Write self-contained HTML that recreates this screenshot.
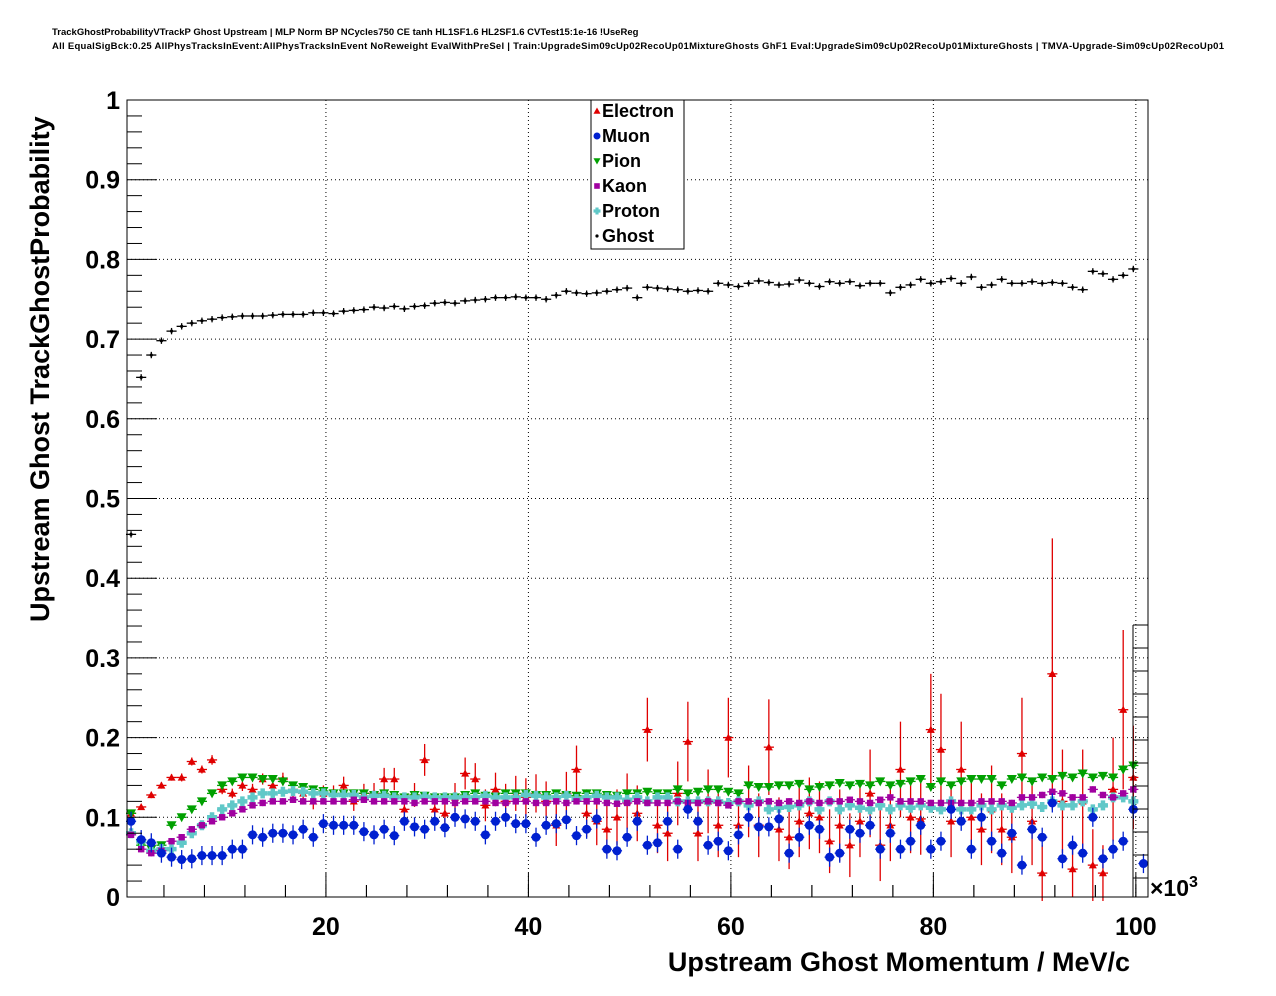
<!DOCTYPE html>
<html><head><meta charset="utf-8"><style>
body{margin:0;background:#fff;}
svg{display:block;font-family:"Liberation Sans",sans-serif;}
</style></head><body>
<svg id="c" width="1276" height="996">
<text x="52" y="35" font-size="9.5" font-weight="bold">TrackGhostProbabilityVTrackP Ghost Upstream | MLP Norm BP NCycles750 CE tanh HL1SF1.6 HL2SF1.6 CVTest15:1e-16 !UseReg</text>
<text x="52" y="49" font-size="9.5" font-weight="bold" textLength="1172">All EqualSigBck:0.25 AllPhysTracksInEvent:AllPhysTracksInEvent NoReweight EvalWithPreSel | Train:UpgradeSim09cUp02RecoUp01MixtureGhosts GhF1 Eval:UpgradeSim09cUp02RecoUp01MixtureGhosts | TMVA-Upgrade-Sim09cUp02RecoUp01</text>
<g id="grid"></g>
<g id="marks"></g>
<g id="axes"></g>
<text x="1130" y="971" font-size="27" font-weight="bold" text-anchor="end">Upstream Ghost Momentum / MeV/c</text>
<text transform="translate(49,622) rotate(-90)" font-size="27" font-weight="bold">Upstream Ghost TrackGhostProbability</text>
<text x="1150" y="896" font-size="23" font-weight="bold">×10<tspan font-size="16" dy="-9">3</tspan></text>
<g id="legend"></g>
</svg>
<script>
const xTicks=[20,40,60,80,100];
const yTicks=[0,0.1,0.2,0.3,0.4,0.5,0.6,0.7,0.8,0.9,1];
const seriesNames=["Electron","Muon","Pion","Kaon","Proton","Ghost"];
const ghost=[0.455,0.652,0.68,0.698,0.71,0.716,0.72,0.723,0.725,0.727,0.728,0.729,0.729,0.729,0.730,0.731,0.731,0.731,0.733,0.733,0.732,0.735,0.736,0.737,0.74,0.739,0.741,0.738,0.741,0.742,0.745,0.746,0.745,0.748,0.749,0.75,0.752,0.752,0.753,0.752,0.752,0.75,0.755,0.76,0.758,0.757,0.758,0.76,0.762,0.764,0.752,0.765,0.764,0.763,0.762,0.76,0.761,0.76,0.77,0.768,0.766,0.77,0.773,0.771,0.768,0.769,0.774,0.77,0.766,0.772,0.77,0.772,0.767,0.77,0.77,0.758,0.765,0.768,0.775,0.77,0.772,0.776,0.77,0.778,0.765,0.768,0.775,0.77,0.77,0.772,0.77,0.771,0.77,0.765,0.762,0.785,0.782,0.775,0.78,0.788];
const electron=[0.105,0.113,0.128,0.14,0.15,0.15,0.17,0.16,0.172,0.135,0.13,0.14,0.135,0.148,0.14,0.148,0.135,0.13,0.12,0.13,0.13,0.14,0.12,0.13,0.13,0.148,0.148,0.11,0.128,0.172,0.11,0.105,0.125,0.155,0.148,0.115,0.135,0.12,0.13,0.125,0.13,0.12,0.09,0.13,0.16,0.105,0.095,0.085,0.1,0.12,0.105,0.21,0.09,0.08,0.13,0.195,0.08,0.12,0.09,0.2,0.09,0.12,0.09,0.188,0.085,0.075,0.095,0.105,0.1,0.07,0.09,0.065,0.095,0.13,0.065,0.09,0.16,0.1,0.098,0.21,0.185,0.095,0.16,0.1,0.085,0.11,0.085,0.075,0.18,0.095,0.03,0.28,0.12,0.035,0.12,0.04,0.03,0.135,0.235,0.15];
const electronErr=[0.003,0.003,0.004,0.004,0.004,0.005,0.005,0.005,0.006,0.006,0.006,0.007,0.007,0.007,0.008,0.008,0.009,0.009,0.01,0.01,0.01,0.011,0.012,0.012,0.013,0.014,0.014,0.015,0.015,0.02,0.016,0.017,0.018,0.02,0.02,0.02,0.021,0.022,0.022,0.024,0.024,0.025,0.026,0.027,0.03,0.03,0.03,0.032,0.035,0.035,0.035,0.04,0.035,0.035,0.04,0.05,0.035,0.04,0.04,0.05,0.04,0.045,0.04,0.06,0.04,0.04,0.045,0.045,0.045,0.04,0.045,0.04,0.045,0.055,0.045,0.045,0.06,0.045,0.045,0.07,0.07,0.045,0.06,0.045,0.045,0.055,0.045,0.045,0.07,0.055,0.035,0.17,0.065,0.035,0.065,0.045,0.035,0.065,0.1,0.065];
const muon=[0.095,0.072,0.068,0.055,0.05,0.047,0.048,0.052,0.052,0.052,0.06,0.06,0.078,0.075,0.08,0.08,0.078,0.085,0.075,0.092,0.09,0.09,0.09,0.082,0.078,0.085,0.077,0.095,0.088,0.085,0.095,0.087,0.1,0.098,0.095,0.078,0.095,0.1,0.092,0.092,0.075,0.09,0.092,0.097,0.077,0.085,0.098,0.06,0.058,0.075,0.095,0.065,0.068,0.095,0.06,0.11,0.095,0.065,0.07,0.058,0.078,0.1,0.088,0.088,0.098,0.055,0.075,0.09,0.085,0.05,0.055,0.085,0.08,0.09,0.06,0.08,0.06,0.07,0.09,0.06,0.07,0.11,0.095,0.06,0.1,0.07,0.055,0.08,0.04,0.085,0.075,0.118,0.048,0.065,0.055,0.1,0.048,0.06,0.07,0.11,0.042];
const pion=[0.105,0.065,0.06,0.065,0.09,0.1,0.11,0.12,0.13,0.14,0.145,0.15,0.15,0.148,0.148,0.145,0.14,0.138,0.135,0.133,0.13,0.13,0.13,0.13,0.128,0.13,0.128,0.125,0.128,0.127,0.125,0.125,0.125,0.128,0.13,0.127,0.126,0.13,0.13,0.13,0.128,0.128,0.13,0.128,0.127,0.13,0.13,0.128,0.127,0.13,0.13,0.132,0.13,0.13,0.135,0.13,0.132,0.135,0.135,0.132,0.13,0.14,0.138,0.138,0.14,0.14,0.142,0.135,0.138,0.14,0.143,0.14,0.142,0.14,0.145,0.14,0.142,0.145,0.148,0.138,0.145,0.14,0.145,0.148,0.148,0.148,0.14,0.148,0.15,0.145,0.15,0.148,0.152,0.15,0.155,0.15,0.152,0.15,0.16,0.165];
const kaon=[0.078,0.06,0.055,0.058,0.07,0.075,0.085,0.09,0.095,0.1,0.105,0.11,0.115,0.118,0.12,0.12,0.122,0.12,0.12,0.12,0.12,0.12,0.122,0.122,0.12,0.12,0.12,0.12,0.118,0.12,0.12,0.12,0.118,0.12,0.12,0.12,0.118,0.118,0.12,0.12,0.118,0.118,0.12,0.118,0.12,0.12,0.12,0.118,0.117,0.118,0.12,0.118,0.118,0.118,0.12,0.118,0.118,0.12,0.118,0.115,0.12,0.12,0.118,0.12,0.118,0.12,0.118,0.12,0.118,0.12,0.12,0.122,0.12,0.118,0.122,0.125,0.12,0.12,0.12,0.118,0.118,0.118,0.118,0.118,0.12,0.12,0.12,0.118,0.125,0.125,0.128,0.132,0.13,0.125,0.125,0.135,0.128,0.125,0.13,0.135];
const proton=[0.08,0.07,0.058,0.06,0.06,0.068,0.08,0.09,0.1,0.11,0.115,0.12,0.125,0.13,0.13,0.132,0.133,0.132,0.13,0.13,0.128,0.128,0.128,0.125,0.127,0.127,0.125,0.125,0.125,0.126,0.125,0.125,0.125,0.125,0.125,0.127,0.125,0.125,0.125,0.128,0.127,0.125,0.125,0.127,0.123,0.125,0.127,0.125,0.125,0.122,0.125,0.12,0.125,0.125,0.12,0.12,0.12,0.12,0.12,0.118,0.12,0.115,0.12,0.11,0.112,0.113,0.115,0.12,0.11,0.12,0.11,0.115,0.112,0.11,0.115,0.11,0.115,0.112,0.115,0.112,0.11,0.12,0.11,0.11,0.115,0.11,0.115,0.112,0.115,0.117,0.113,0.12,0.115,0.115,0.12,0.11,0.115,0.125,0.125,0.12];

const L=127,R=1148,T=100,B=897,XMIN=0.35,XMAX=101.2;
const X=v=>L+(v-XMIN)/(XMAX-XMIN)*(R-L);
const Y=v=>B-v*(B-T);
const NS="http://www.w3.org/2000/svg";
function mk(tag,attrs,parent){const e=document.createElementNS(NS,tag);for(const k in attrs)e.setAttribute(k,attrs[k]);parent.appendChild(e);return e;}
const grid=document.getElementById('grid'),axes=document.getElementById('axes'),marks=document.getElementById('marks'),leg=document.getElementById('legend');
mk('rect',{x:L,y:T,width:R-L,height:B-T,fill:'none',stroke:'#000','stroke-width':1},axes);
yTicks.forEach(t=>{
  const y=Y(t);
  if(t>0&&t<1){const g=mk('line',{x1:L,x2:R,y1:y,y2:y,stroke:'#000','stroke-dasharray':'1,3','stroke-width':1},grid);
  
  }
  mk('line',{x1:L,x2:L+30,y1:y,y2:y,stroke:'#000'},axes);
  const tx=mk('text',{x:L-7,y:y+9,'font-size':25,'font-weight':'bold','text-anchor':'end'},axes);
  tx.textContent=t===0?'0':(t===1?'1':t.toFixed(1));
  
  
});
for(let i=0;i<50;i++){const y=Y(i*0.02);if(i%5)mk('line',{x1:L,x2:L+15,y1:y,y2:y,stroke:'#000'},axes);}
for(let v=2;v<=100;v+=2){const x=X(v);mk('line',{x1:x,x2:x,y1:B,y2:B-(v%20===0?24:(v%4===0?12:0)),stroke:'#000'},axes);}
for(let v=4;v<=100;v+=4){const x=X(v);mk('line',{x1:x,x2:x,y1:B,y2:B-12,stroke:'#000'},axes);}
xTicks.forEach(t=>{
  const x=X(t);
  const g=mk('line',{x1:x,x2:x,y1:T,y2:B,stroke:'#000','stroke-dasharray':'1,3'},grid);
  
  
  const tx=mk('text',{x:x,y:935,'font-size':25,'font-weight':'bold','text-anchor':'middle'},axes);
  tx.textContent=t;
  
  
});
function marker(type,cx,cy,col,p,s){
  if(type==='tri')return mk('polygon',{points:`${cx},${cy-s} ${cx-s},${cy+s*0.8} ${cx+s},${cy+s*0.8}`,fill:col},p);
  if(type==='dtri')return mk('polygon',{points:`${cx},${cy+s} ${cx-s},${cy-s*0.8} ${cx+s},${cy-s*0.8}`,fill:col},p);
  if(type==='circ')return mk('circle',{cx:cx,cy:cy,r:s,fill:col},p);
  if(type==='sq')return mk('rect',{x:cx-s*0.8,y:cy-s*0.8,width:s*1.6,height:s*1.6,fill:col},p);
  if(type==='cross')return mk('path',{d:`M${cx-s},${cy}H${cx+s}M${cx},${cy-s}V${cy+s}`,stroke:col,'stroke-width':s*0.9},p);
  if(type==='dot')return mk('circle',{cx:cx,cy:cy,r:1.6,fill:col},p);
}
const specs=[
 {name:'electron',vals:electron,err:electronErr,col:'#e00000',m:'tri',s:4},
 {name:'pion',vals:pion,err:null,col:'#00a000',m:'dtri',s:5},
 {name:'proton',vals:proton,err:null,col:'#60c8c8',m:'cross',s:5},
 {name:'kaon',vals:kaon,err:null,col:'#a000a0',m:'sq',s:4},
 {name:'muon',vals:muon,err:null,col:'#0020d0',m:'circ',s:4.5},
 {name:'ghost',vals:ghost,err:null,col:'#000',m:'dot',s:2}
];
specs.forEach(sp=>{
  const g=mk('g',{},marks);
  
  
  sp.vals.forEach((v,i)=>{
    const xc=0.75+i,cx=X(xc),cy=Y(v);
    const e=sp.err?sp.err[i]:(sp.name==='ghost'?0.004:(sp.name==='muon'?0.012:0.004));
    mk('line',{x1:cx,x2:cx,y1:Y(v+e),y2:Y(v-e),stroke:sp.col,'stroke-width':1.3},g);
    mk('line',{x1:X(xc-0.5),x2:X(xc+0.5),y1:cy,y2:cy,stroke:sp.col,'stroke-width':1.3},g);
    const m=marker(sp.m,cx,cy,sp.col,g,sp.s);
    
    
  });
});
mk('rect',{x:591,y:100,width:93,height:149,fill:'#fff',stroke:'#000'},leg);
const legM=['tri','circ','dtri','sq','cross','dot'];
const legC=['#e00000','#0020d0','#00a000','#a000a0','#60c8c8','#000'];
seriesNames.forEach((n,i)=>{
  const y=111+i*25;
  const g=mk('g',{},leg);
  
  
  marker(legM[i],597,y,legC[i],g,legM[i]==='dot'?2:3.5);
  const t=mk('text',{x:602,y:y+6,'font-size':18,'font-weight':'bold'},g);
  t.textContent=n;
});
mk('line',{x1:1133,x2:1133,y1:625,y2:897,stroke:'#000'},axes);
for(let i=0;i<12;i++){const y=625+i*23;mk('line',{x1:1133,x2:1148,y1:y,y2:y,stroke:'#000'},axes);}
</script>
</body></html>
